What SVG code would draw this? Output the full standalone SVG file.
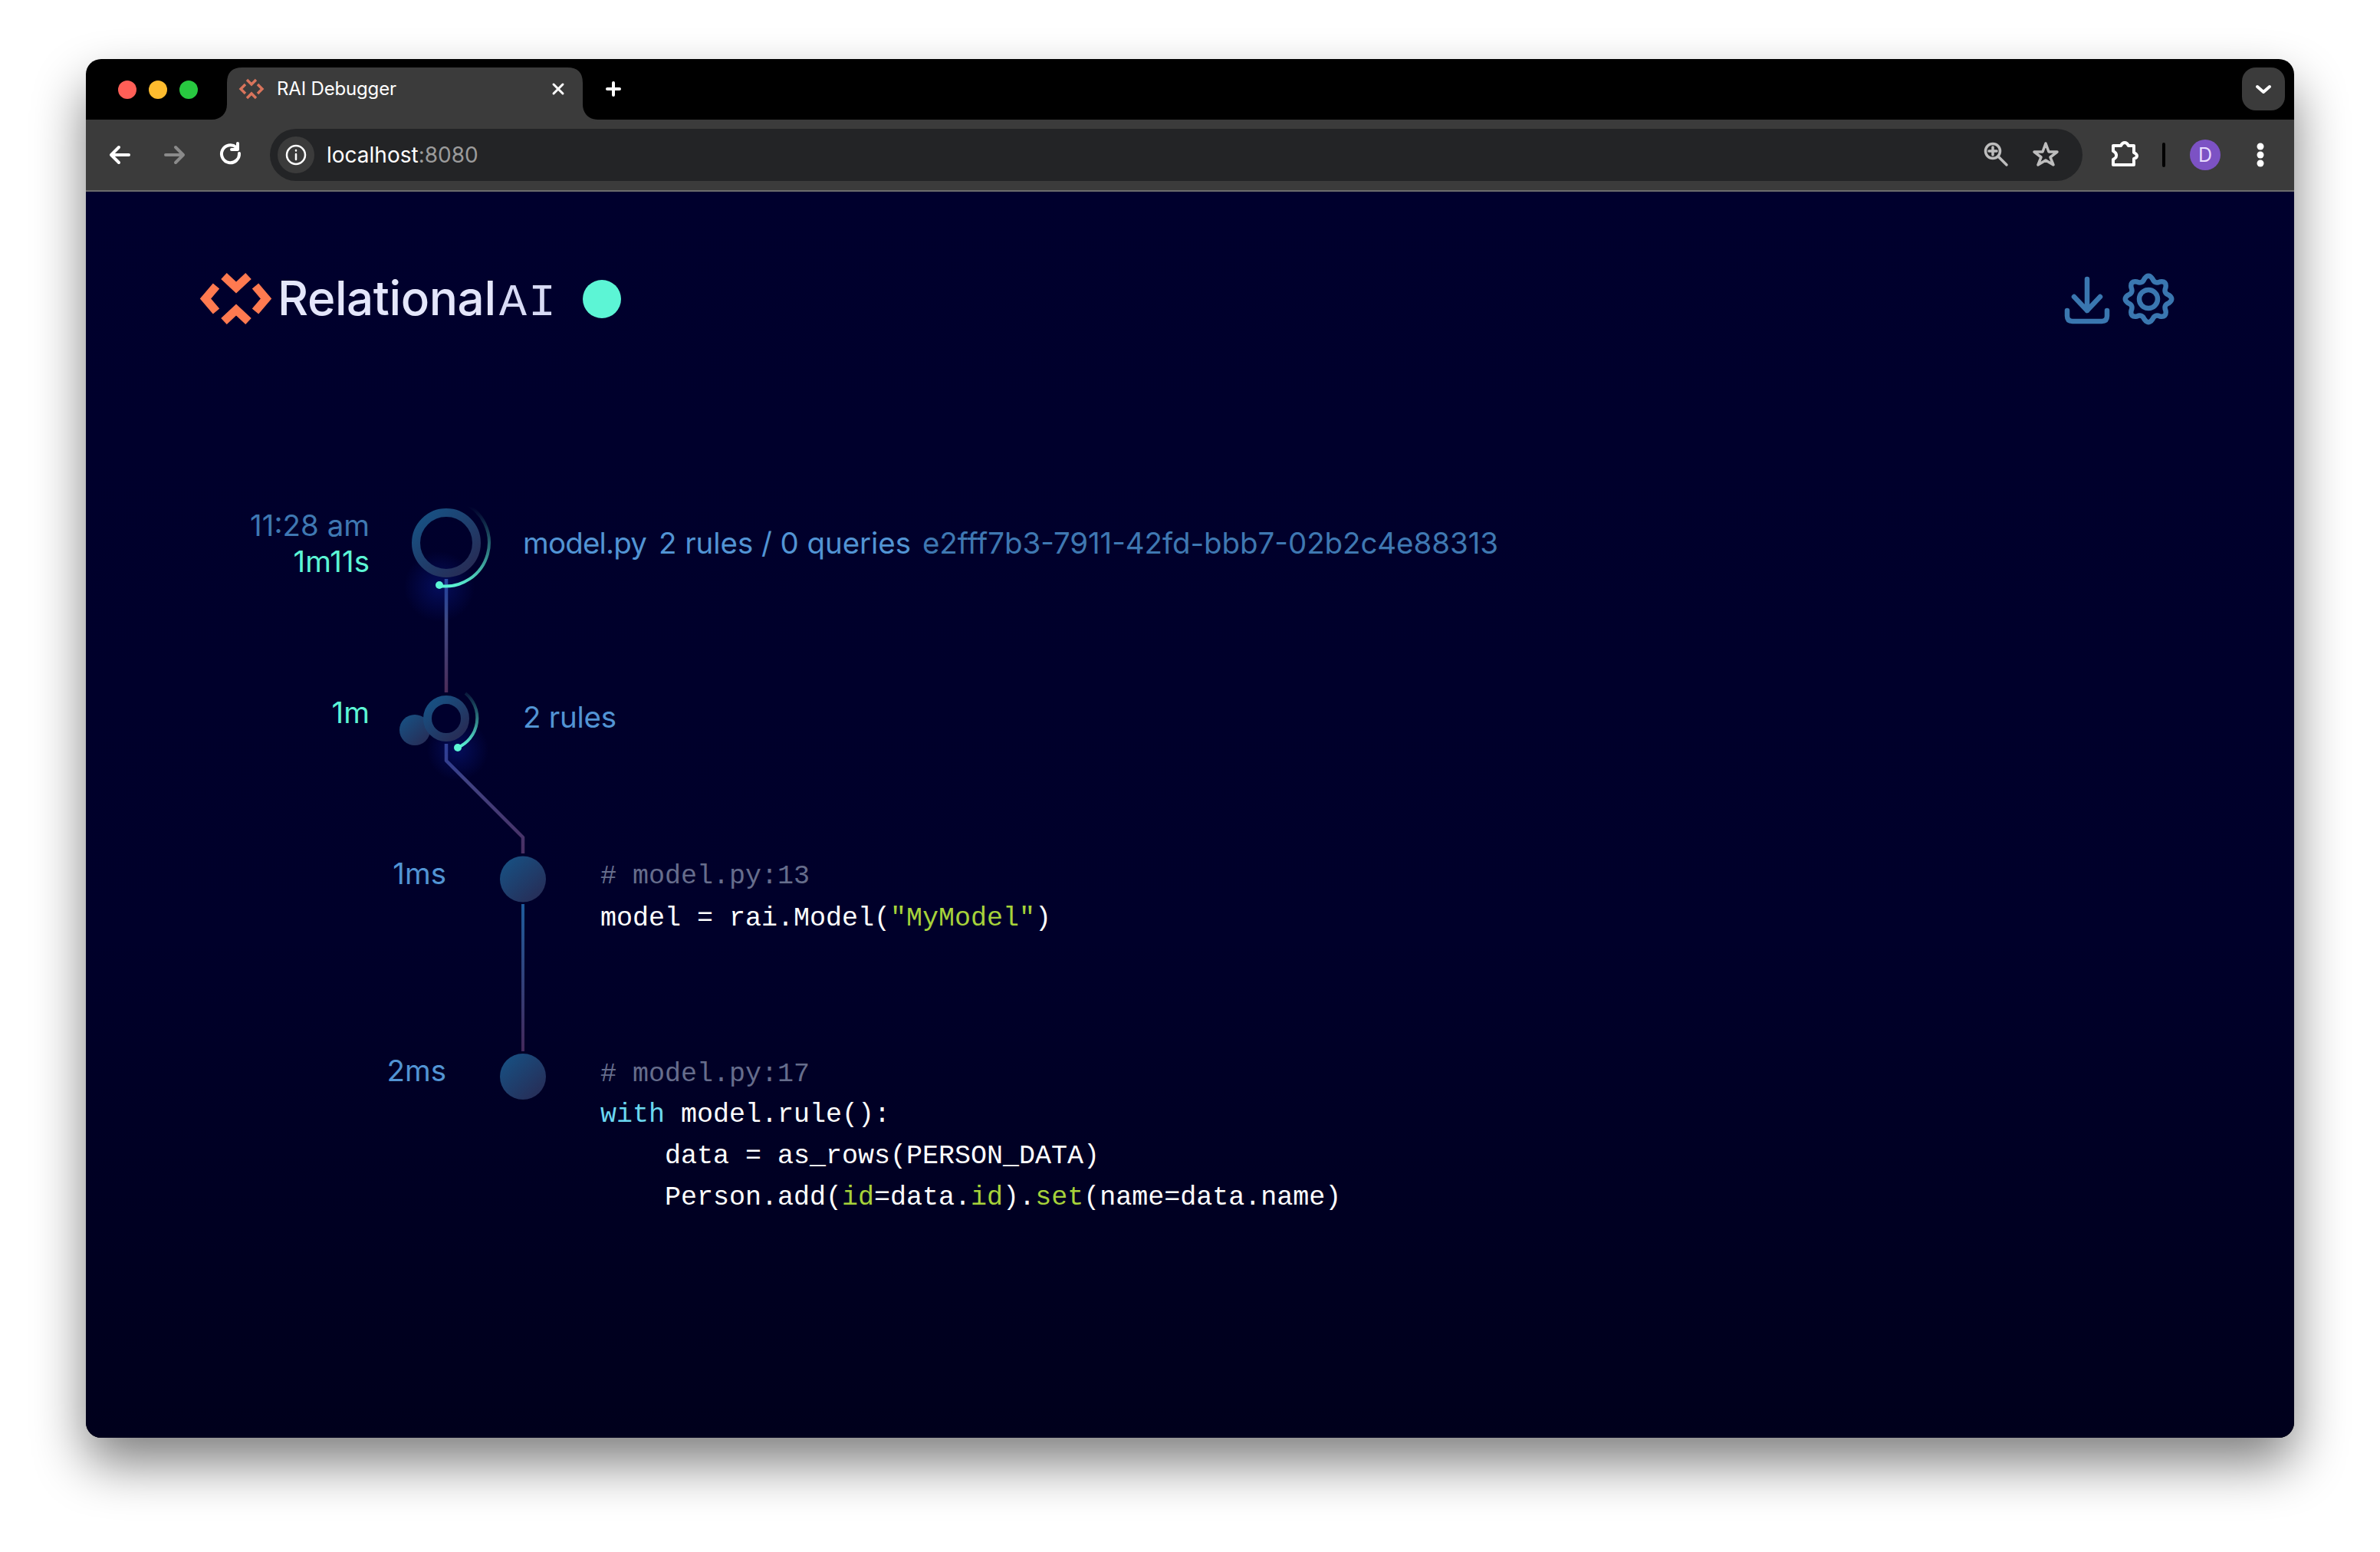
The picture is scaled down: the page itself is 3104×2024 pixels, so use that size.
<svg xmlns="http://www.w3.org/2000/svg" xmlns:xlink="http://www.w3.org/1999/xlink" width="3104" height="2024" viewBox="0 0 3104 2024">
<style>
.ui{font-family:"Inter","Liberation Sans",sans-serif}
.lab{font-family:"Inter","Liberation Sans",sans-serif;font-size:38.500px}
.mint{fill:#5cf5d5}.blue{fill:#5294d4}.dim{fill:#3f78b2}
.code{font-family:"Liberation Mono",monospace;font-size:35px;fill:#fff;white-space:pre}
.cm{fill:#666d8c}.gr{fill:#a6d23a}.cy{fill:#6ad7f0}
.tool{fill:none;stroke:#fff;stroke-width:4;stroke-linecap:round;stroke-linejoin:round}
.ico{fill:none;stroke:#3a77b0;stroke-width:6.500;stroke-linecap:round;stroke-linejoin:round}
.conn{fill:none;stroke-width:4.500;stroke-linejoin:round}
</style>
<defs>
<linearGradient id="bg" x1="0" y1="0" x2="0" y2="1"><stop offset="0" stop-color="#00002d"/><stop offset="0.6" stop-color="#00002a"/><stop offset="1" stop-color="#00001c"/></linearGradient>
<linearGradient id="node" x1="0.15" y1="0.1" x2="0.85" y2="0.9"><stop offset="0" stop-color="#184e80"/><stop offset="1" stop-color="#262e58"/></linearGradient>
<linearGradient id="ln1" gradientUnits="userSpaceOnUse" x1="0" y1="755" x2="0" y2="903"><stop offset="0" stop-color="#355a9c"/><stop offset="1" stop-color="#4c2c58"/></linearGradient>
<linearGradient id="ln2" gradientUnits="userSpaceOnUse" x1="0" y1="970" x2="0" y2="1113"><stop offset="0" stop-color="#3c4c94"/><stop offset="1" stop-color="#4a2f62"/></linearGradient>
<linearGradient id="ln3" gradientUnits="userSpaceOnUse" x1="0" y1="1179" x2="0" y2="1371"><stop offset="0" stop-color="#1e5c9c"/><stop offset="1" stop-color="#44285a"/></linearGradient>
<linearGradient id="arc1" gradientUnits="userSpaceOnUse" x1="610" y1="660" x2="590" y2="765"><stop offset="0" stop-color="#5cf5d5" stop-opacity="0"/><stop offset="1" stop-color="#5cf5d5"/></linearGradient>
<linearGradient id="arc2" gradientUnits="userSpaceOnUse" x1="610" y1="900" x2="600" y2="975"><stop offset="0" stop-color="#5cf5d5" stop-opacity="0.05"/><stop offset="1" stop-color="#5cf5d5"/></linearGradient>
<radialGradient id="glow"><stop offset="0" stop-color="#0a1f9c" stop-opacity="0.42"/><stop offset="1" stop-color="#0a1f9c" stop-opacity="0"/></radialGradient>
<filter id="sh" x="-10%" y="-10%" width="120%" height="125%"><feGaussianBlur stdDeviation="34"/></filter>
<clipPath id="win"><rect x="112" y="77" width="2880" height="1798" rx="20"/></clipPath>
</defs>
<rect width="3104" height="2024" fill="#fff"/>
<rect x="112" y="112" width="2880" height="1796" rx="24" fill="#000" opacity="0.5" filter="url(#sh)"/>
<g clip-path="url(#win)">
<rect x="112" y="77" width="2880" height="1798" fill="#000"/>
<rect x="112" y="156" width="2880" height="92" fill="#3b3b3b"/>
<rect x="112" y="248" width="2880" height="2" fill="#6c6c6c"/>
<rect x="112" y="250" width="2880" height="1625" fill="url(#bg)"/>
</g>
<g id="browser-chrome">
<circle cx="166" cy="117" r="12" fill="#ff5f57"/><circle cx="206" cy="117" r="12" fill="#febc2e"/><circle cx="246" cy="117" r="12" fill="#28c840"/>
<path d="M276 156C288 156 296 148 296 136V108Q296 88 316 88H740Q760 88 760 108V136C760 148 768 156 780 156Z" fill="#3b3b3b"/>
<g fill="none" stroke="#d9745c" stroke-width="3.400"><path d="M322 104L328 110L334 104M322 128L328 122L334 128M320 110L314 116L320 122M336 110L342 116L336 122"/></g>
<text class="ui" x="361" y="124" font-size="24" fill="#fff" textLength="156">RAI Debugger</text>
<path class="tool" style="stroke-width:3" d="M722 110L734 122M734 110L722 122"/>
<path class="tool" d="M800 108V124M792 116H808"/>
<rect x="2924" y="88" width="56" height="56" rx="18" fill="#3b3b3b"/>
<path class="tool" d="M2944 113L2952 120L2960 113"/>
<path class="tool" d="M168 202H146M155 192L145 202L155 212"/>
<path class="tool" style="stroke:#8a8a8a" d="M216 202H238M229 192L239 202L229 212"/>
<path class="tool" d="M312 200A11.500 11.500 0 1 1 308 192M310 187V195H302"/>
<rect x="352" y="168" width="2364" height="68" rx="34" fill="#232426"/>
<circle cx="386" cy="202" r="24" fill="#3b3b3b"/>
<circle cx="386" cy="202" r="12" class="tool" style="stroke-width:2.500"/>
<path class="tool" style="stroke-width:2.500" d="M386 201V208M386 196V196.500"/>
<text class="ui" x="426" y="212" font-size="28" fill="#fff">localhost<tspan fill="#9b9b9b">:8080</tspan></text>
<g class="tool" style="stroke:#bdbdbd;stroke-width:3.500"><circle cx="2599" cy="197" r="9.500"/><path d="M2606 204L2617 215M2599 192V202M2594 197H2604"/></g>
<path class="tool" style="stroke:#bdbdbd;stroke-width:3.500" d="M2668 187L2672 198L2683 198L2674 205L2678 215L2668 209L2658 215L2662 205L2653 198L2664 198Z"/>
<path class="tool" d="M2756 190H2766Q2768 186 2771 186Q2774 186 2776 190H2783V199Q2787 201 2787 203Q2787 206 2783 207V215H2756V208Q2761 205 2760 202Q2760 199 2756 197Z"/>
<rect x="2820" y="186" width="4" height="32" rx="2" fill="#000"/>
<circle cx="2876" cy="202" r="20" fill="#7c52c4"/>
<text class="ui" x="2876" y="211" font-size="25" fill="#e8dcff" text-anchor="middle">D</text>
<circle cx="2948" cy="191" r="4.500" fill="#fff"/><circle cx="2948" cy="202" r="4.500" fill="#fff"/><circle cx="2948" cy="213" r="4.500" fill="#fff"/>
</g>
<g id="logo">
<g fill="none" stroke="#ff7a50" stroke-width="11"><path d="M292 360L308 375L324 360"/><path d="M292 419L308 404L324 419"/><path d="M282 373L268 389.500L282 406"/><path d="M333 373L347 389.500L333 406"/></g>
<text class="ui" x="362" y="411" font-size="62" font-weight="500" fill="#e4e6fb" textLength="285" lengthAdjust="spacing">Relational</text>
<text x="651" y="411" font-family="Liberation Mono, monospace" font-size="60" fill="#d8dbf5" textLength="74" lengthAdjust="spacing">AI</text>
<circle id="status" cx="785" cy="390" r="25" fill="#5cf5d5"/>
</g>
<g id="download"><path class="ico" d="M2722 364V405M2705 387L2722 405L2739 387M2696 405V412Q2696 419 2703 419H2741Q2748 419 2748 412V405"/></g>
<g id="settings" transform="translate(2802 390)"><path class="ico" d="M-5.270 -26.480Q0 -34 5.270 -26.480Q8.040 -19.400 15 -22.450Q24.040 -24.040 22.450 -15Q19.400 -8.040 26.480 -5.270Q34 0 26.480 5.270Q19.400 8.040 22.450 15Q24.040 24.040 15 22.450Q8.040 19.400 5.270 26.480Q0 34 -5.270 26.480Q-8.040 19.400 -15 22.450Q-24.040 24.040 -22.450 15Q-19.400 8.040 -26.480 5.270Q-34 0 -26.480 -5.270Q-19.400 -8.040 -22.450 -15Q-24.040 -24.040 -15 -22.450Q-8.040 -19.400 -5.270 -26.480Z"/><circle class="ico" r="12"/></g>
<g id="connectors">
<path class="conn" stroke="url(#ln1)" d="M582 755V903"/>
<path class="conn" stroke="url(#ln2)" d="M582 970V992L682 1092V1113"/>
<path class="conn" stroke="url(#ln3)" style="stroke-width:4" d="M682 1179V1371"/>
</g>
<g id="node-run">
<circle cx="573" cy="765" r="46" fill="url(#glow)"/>
<circle cx="582" cy="708" r="39.500" fill="none" stroke="url(#node)" stroke-width="11"/>
<path d="M603 655A57 57 0 0 1 573 764" fill="none" stroke="url(#arc1)" stroke-width="4"/>
<circle cx="573" cy="763" r="5" fill="#5cf5d5"/>
<text class="lab dim" x="482" y="699" text-anchor="end">11:28 am</text>
<text class="lab mint" x="482" y="746" text-anchor="end">1m11s</text>
<text class="lab blue" x="682" y="722" textLength="162" lengthAdjust="spacing">model.py</text>
<text class="lab blue" x="859" y="722" textLength="329" lengthAdjust="spacing">2 rules / 0 queries</text>
<text class="lab dim" x="1203" y="722" textLength="751" lengthAdjust="spacing">e2fff7b3-7911-42fd-bbb7-02b2c4e88313</text>
</g>
<g id="node-rules">
<circle cx="597" cy="978" r="40" fill="url(#glow)"/>
<circle cx="541" cy="952" r="20" fill="url(#node)"/>
<circle cx="582" cy="937" r="24.500" fill="#00002d" stroke="url(#node)" stroke-width="11"/>
<path d="M607 904A42 42 0 0 1 597 975" fill="none" stroke="url(#arc2)" stroke-width="4"/>
<circle cx="597" cy="975" r="5" fill="#5cf5d5"/>
<text class="lab mint" x="482" y="943" text-anchor="end">1m</text>
<text class="lab blue" x="682" y="949" textLength="122" lengthAdjust="spacing">2 rules</text>
</g>
<g id="node-13">
<circle cx="682" cy="1146.500" r="30" fill="url(#node)"/>
<text class="lab blue" x="582" y="1153" text-anchor="end">1ms</text>
<text class="code cm" x="783" y="1152"># model.py:13</text>
<text class="code" x="783" y="1207">model = rai.Model(<tspan class="gr">"MyModel"</tspan>)</text>
</g>
<g id="node-17">
<circle cx="682" cy="1404" r="30" fill="url(#node)"/>
<text class="lab blue" x="582" y="1410" text-anchor="end">2ms</text>
<text class="code cm" x="783" y="1410"># model.py:17</text>
<text class="code" x="783" y="1463"><tspan class="cy">with</tspan> model.rule():</text>
<text class="code" x="867" y="1517">data = as_rows(PERSON_DATA)</text>
<text class="code" x="867" y="1571">Person.add(<tspan class="gr">id</tspan>=data.<tspan class="gr">id</tspan>).<tspan class="gr">set</tspan>(name=data.name)</text>
</g>
</svg>
